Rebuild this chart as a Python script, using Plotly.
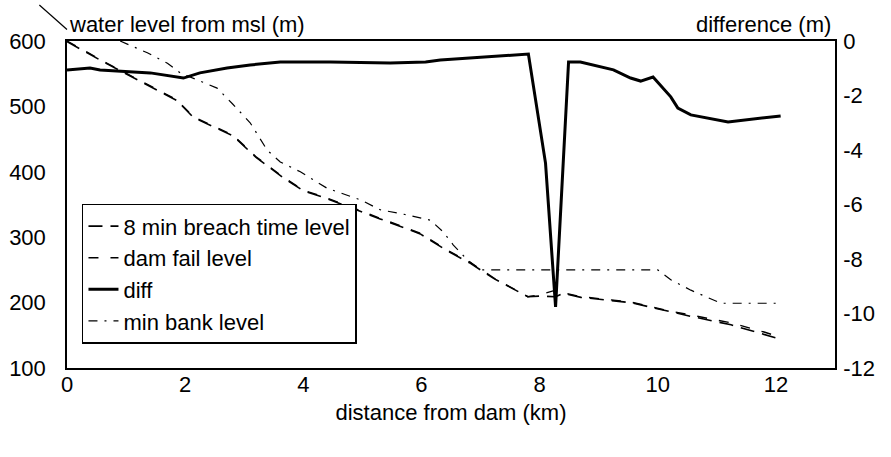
import plotly.graph_objects as go

# ---- data ----
x_fail = [0, 0.68, 1.29, 1.86, 2.14, 2.81, 3.2, 3.66, 4.0, 4.4, 5.3, 5.98, 6.44, 6.83, 7.22, 7.8, 8.0, 8.27, 8.4, 8.7, 9.54, 10.1, 10.56, 11.24, 11.8, 12.08]
dam_fail = [600, 566, 537, 510, 484, 456, 423, 392, 372, 360, 329, 306, 280, 261, 238, 209, 212, 219, 215, 209, 201, 189, 181, 169, 155, 147]
breach_8min = [599, 565, 536, 509, 483, 455, 422, 391, 371, 359, 328, 305, 279, 260, 237, 209, 210, 209, 214, 208, 200, 188, 179, 166, 152, 144]

x_bank = [0.9, 1.36, 1.7, 1.92, 2.3, 2.54, 2.8, 3.1, 3.39, 3.61, 3.95, 4.4, 4.97, 5.3, 5.76, 6.15, 6.37, 6.54, 6.78, 7.0, 8.0, 9.0, 10.0, 10.22, 10.56, 11.07, 12.08]
min_bank = [600, 582, 566, 551, 537, 528, 504, 475, 433, 415, 400, 375, 357, 342, 334, 326, 308, 288, 265, 250, 250, 250, 250, 235, 219, 199, 199]

x_diff = [0, 0.39, 0.56, 1.02, 1.41, 1.97, 2.25, 2.71, 3.1, 3.61, 4.46, 5.47, 6.07, 6.32, 6.83, 7.81, 8.1, 8.27, 8.49, 8.69, 9.25, 9.54, 9.71, 9.92, 10.22, 10.34, 10.56, 11.19, 12.08]
diff = [-1.06, -0.99, -1.06, -1.13, -1.17, -1.36, -1.17, -0.99, -0.88, -0.77, -0.77, -0.81, -0.77, -0.70, -0.62, -0.48, -4.48, -9.76, -0.77, -0.77, -1.06, -1.36, -1.47, -1.32, -2.05, -2.46, -2.71, -2.97, -2.75]

x_ticks = [0, 2, 4, 6, 8, 10, 12]
y_ticks = [100, 200, 300, 400, 500, 600]
y2_ticks = [-12, -10, -8, -6, -4, -2, 0]
y2_labels = ["-12", "-10", "-8", "-6", "-4", "-2", "0"]

FONT = "Liberation Sans, Arial, sans-serif"
FS = 22

fig = go.Figure()
fig.add_trace(go.Scatter(x=x_fail, y=breach_8min, mode="lines", name="8 min breach time level",
                         legendgroup="a", line=dict(color="black", width=1.6, dash="14px,8px")))
fig.add_trace(go.Scatter(x=x_fail, y=dam_fail, mode="lines", name="dam fail level",
                         legendgroup="b", line=dict(color="black", width=1.4, dash="10px,12px")))
fig.add_trace(go.Scatter(x=x_diff, y=diff, mode="lines", name="diff", yaxis="y2",
                         legendgroup="c", line=dict(color="black", width=3)))
fig.add_trace(go.Scatter(x=x_bank, y=min_bank, mode="lines", name="min bank level",
                         legendgroup="d", line=dict(color="black", width=1.2, dash="9px,7px,2px,7px")))

fig.update_layout(
    width=891, height=457,
    margin=dict(l=67, r=56, t=41, b=89, autoexpand=False),
    paper_bgcolor="white", plot_bgcolor="white",
    font=dict(family=FONT, size=FS, color="black"),
    showlegend=True,
    legend=dict(x=0.0195, y=0.502, xanchor="left", yanchor="top",
                bordercolor="black", borderwidth=1.5, bgcolor="white",
                font=dict(size=FS), itemwidth=30, tracegroupgap=4,
                traceorder="normal"),
    xaxis=dict(range=[0, 13], tickvals=x_ticks, showgrid=False, zeroline=False,
               showline=True, linecolor="black", linewidth=1.5, mirror=True,
               ticks="", ticklabelstandoff=-4, automargin=False,
               title=dict(text="distance from dam (km)", standoff=8, font=dict(size=FS))),
    yaxis=dict(range=[100, 600], tickvals=y_ticks, showgrid=False, zeroline=False,
               showline=True, linecolor="black", linewidth=1.5, mirror=True,
               ticks="outside", ticklen=15, tickcolor="rgba(0,0,0,0)",
               ticklabelstandoff=0, automargin=False),
    yaxis2=dict(range=[-12, 0], tickvals=y2_ticks, ticktext=y2_labels, overlaying="y", side="right",
                showgrid=False, zeroline=False, showline=True, linecolor="black",
                linewidth=1.5, ticks="outside", ticklen=2, tickcolor="rgba(0,0,0,0)",
                ticklabelstandoff=0, automargin=False),
    annotations=[
        dict(text="water level from msl (m)", xref="paper", yref="paper",
             x=0, y=1, xanchor="left", yanchor="bottom", yshift=2, showarrow=False,
             font=dict(size=FS)),
        dict(text="difference (m)", xref="paper", yref="paper",
             x=0.997, y=1, xanchor="right", yanchor="bottom", yshift=2, showarrow=False,
             font=dict(size=FS)),
    ],
    shapes=[dict(type="line", xref="paper", yref="paper", x0=-0.036, y0=1.11, x1=0.0, y1=1.035,
                 line=dict(color="black", width=1.2))],
)

fig.write_html("out.html")
